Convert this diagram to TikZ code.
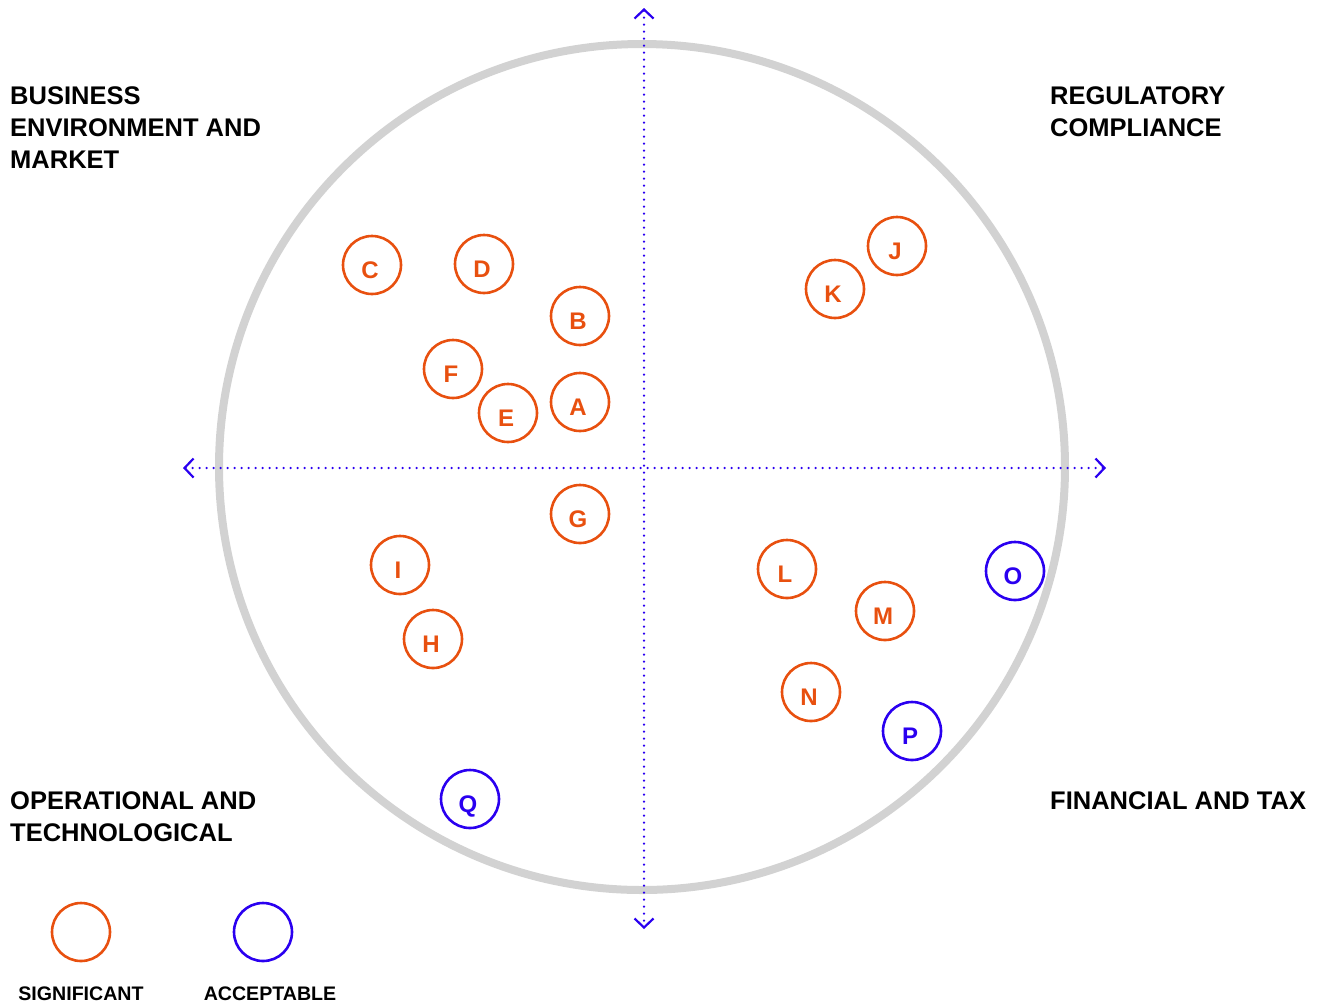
\documentclass[tikz,border=0pt]{standalone}
\usepackage{fontspec}
\setmainfont{Liberation Sans}
\usetikzlibrary{arrows.meta}
\definecolor{sig}{HTML}{E8500F}
\definecolor{acc}{HTML}{2A00F0}
\definecolor{ring}{HTML}{D2D2D2}
\newcommand{\rl}[1]{\raisebox{-13.6pt}[0pt][0pt]{\makebox[0pt]{#1\hspace{4pt}}}}
\begin{document}
\begin{tikzpicture}[x=1pt,y=-1pt,
  risk/.style={circle,draw=#1,line width=2.6pt,minimum size=58pt,inner sep=0pt,
    text=#1,font=\fontsize{24}{24}\selectfont\bfseries},
  title/.style={anchor=base west,inner sep=0pt,align=left,
    font=\fontsize{25.5}{32}\selectfont\bfseries},
  legendtxt/.style={anchor=base,inner sep=0pt,font=\fontsize{19.6}{19.6}\selectfont\bfseries},
  axis/.style={acc,line width=2.5pt,dash pattern=on 0pt off 7pt,line cap=round,
    {Straight Barb[length=9pt,width=19pt,line width=2.2pt]}-{Straight Barb[length=9pt,width=19pt,line width=2.2pt]}}]
\useasboundingbox (0,0) rectangle (1322,1005);
% outer ring
\node[circle,draw=ring,line width=8pt,minimum size=846pt,inner sep=0pt] (ring) at (642,467) {};
% axes
\coordinate (top) at (644,8);
\coordinate (bot) at (644,929);
\coordinate (lft) at (183,468);
\coordinate (rgt) at (1106,468);
\draw[axis] (top) -- (bot);
\draw[axis] (lft) -- (rgt);
% titles (anchored at the baseline of their last line)
\node[title] (t1) at (10,168) {BUSINESS\\ENVIRONMENT AND\\MARKET};
\node[title] (t2) at (1050,136) {REGULATORY\\COMPLIANCE};
\node[title] (t3) at (10,841) {OPERATIONAL AND\\TECHNOLOGICAL};
\node[title] (t4) at (1050,809) {FINANCIAL AND TAX};
% risks
\node[risk=sig] (C) at (372,265) {\rl{C}};
\node[risk=sig] (D) at (484,264) {\rl{D}};
\node[risk=sig] (B) at (580,316) {\rl{B}};
\node[risk=sig] (F) at (453,369) {\rl{F}};
\node[risk=sig] (E) at (508,413) {\rl{E}};
\node[risk=sig] (A) at (580,402) {\rl{A}};
\node[risk=sig] (G) at (580,514) {\rl{G}};
\node[risk=sig] (I) at (400,565) {\rl{I}};
\node[risk=sig] (H) at (433,639) {\rl{H}};
\node[risk=sig] (J) at (897,246) {\rl{J}};
\node[risk=sig] (K) at (835,289) {\rl{K}};
\node[risk=sig] (L) at (787,569) {\rl{L}};
\node[risk=sig] (M) at (885,611) {\rl{M}};
\node[risk=sig] (N) at (811,692) {\rl{N}};
\node[risk=acc] (O) at (1015,571) {\rl{O}};
\node[risk=acc] (P) at (912,731) {\rl{P}};
\node[risk=acc] (Q) at (470,799) {\rl{Q}};
% legend
\node[risk=sig] (ls) at (81,932) {};
\node[risk=acc] (la) at (263,932) {};
\node[legendtxt] (lst) at (81,1000) {SIGNIFICANT};
\node[legendtxt] (lat) at (270,1000) {ACCEPTABLE};
\end{tikzpicture}
\end{document}
